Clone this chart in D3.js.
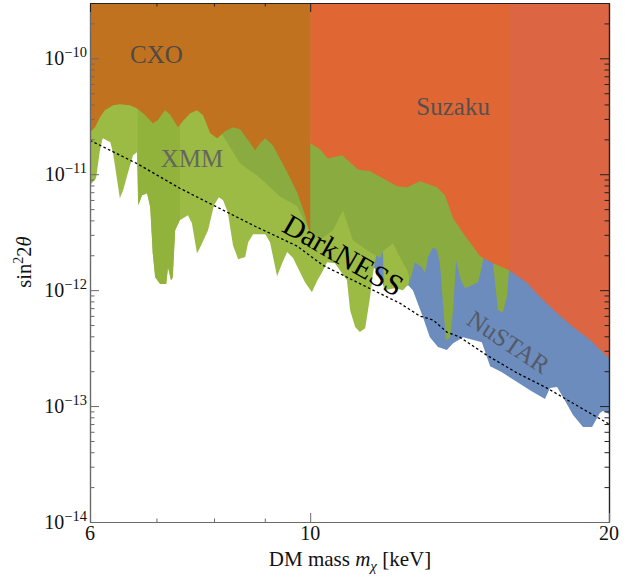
<!DOCTYPE html>
<html><head><meta charset="utf-8">
<script src="https://cdn.jsdelivr.net/npm/d3@7/dist/d3.min.js"></script>
<style>
html,body{margin:0;padding:0;background:#fff;}
svg{display:block;font-family:"Liberation Serif","DejaVu Serif",serif;}
</style></head>
<body>
<svg id="chart" width="631" height="577"></svg>
<script>
// ---------------- data (mass in keV, sin^2 2theta) ----------------
const xDomain = [6, 20];
const yDomain = [1e-14, 3e-10];
const xMajorTicks = [6, 10, 20];
const xMinorTicks = [7, 8, 9];
const yMajorTicks = [1e-14, 1e-13, 1e-12, 1e-11, 1e-10];
const yTickExponents = ["−14", "−13", "−12", "−11", "−10"];
const yMinorMantissas = [2, 3, 4, 5, 6, 7, 8, 9];

const cxoLower = [[6.00,2.30e-11],[6.07,2.54e-11],[6.14,3.10e-11],[6.21,3.56e-11],[6.33,3.93e-11],[6.43,4.01e-11],[6.58,3.93e-11],[6.69,3.71e-11],[6.82,3.23e-11],[6.94,2.75e-11],[7.02,2.92e-11],[7.14,3.56e-11],[7.22,3.29e-11],[7.36,2.54e-11],[7.44,2.86e-11],[7.57,3.36e-11],[7.69,3.56e-11],[7.80,3.23e-11],[7.93,2.26e-11],[8.06,2.04e-11],[8.21,2.35e-11],[8.36,2.54e-11],[8.50,2.44e-11],[8.66,1.96e-11],[8.80,1.61e-11],[8.90,1.85e-11],[9.01,2.04e-11],[9.17,1.78e-11],[9.48,1.04e-11],[9.70,7.00e-12],[9.86,4.70e-12],[9.95,3.56e-12],[10.0,2.92e-12]];

const suzakuLower = [[10.0,1.85e-11],[10.23,1.64e-11],[10.42,1.37e-11],[10.77,1.46e-11],[11.17,1.10e-11],[11.49,1.06e-11],[12.23,7.88e-12],[12.52,7.72e-12],[12.90,8.71e-12],[13.42,7.72e-12],[13.67,6.59e-12],[13.93,4.18e-12],[14.26,3.10e-12],[14.83,1.96e-12],[15.28,1.71e-12],[15.86,1.49e-12],[16.54,1.15e-12],[17.04,8.71e-13],[17.73,6.33e-13],[18.40,4.80e-13],[19.14,3.71e-13],[20.0,2.59e-13]];
const suzakuSplit = 15.86;

const xmmLower = [[6.00,8.04e-12],[6.085,9.24e-12],[6.14,1.61e-11],[6.18,2.04e-11],[6.29,1.89e-11],[6.33,1.52e-11],[6.39,8.88e-12],[6.43,6.21e-12],[6.48,7.28e-12],[6.55,1.02e-11],[6.63,1.46e-11],[6.69,1.55e-11],[6.71,5.40e-12],[6.77,6.59e-12],[6.85,6.86e-12],[6.90,5.19e-12],[6.94,2.08e-12],[6.98,1.29e-12],[7.06,1.13e-12],[7.16,1.13e-12],[7.19,1.58e-12],[7.24,1.22e-12],[7.27,1.29e-12],[7.31,3.29e-12],[7.39,4.01e-12],[7.53,4.43e-12],[7.60,3.78e-12],[7.69,2.08e-12],[7.74,2.30e-12],[7.89,3.29e-12],[8.00,5.40e-12],[8.09,6.33e-12],[8.17,5.97e-12],[8.26,4.70e-12],[8.36,2.44e-12],[8.46,1.85e-12],[8.60,1.93e-12],[8.66,2.59e-12],[8.76,3.04e-12],[9.01,3.04e-12],[9.11,2.59e-12],[9.26,1.32e-12],[9.37,1.71e-12],[9.48,2.13e-12],[9.61,1.89e-12],[9.88,1.17e-12],[10.04,9.61e-13],[10.16,1.20e-12],[10.28,1.43e-12],[10.40,1.74e-12],[10.59,1.71e-12],[10.89,1.22e-12],[10.97,6.72e-13],[11.10,4.80e-13],[11.22,4.35e-13],[11.36,4.70e-13],[11.49,8.71e-13],[11.57,1.40e-12],[11.62,1.74e-12],[11.68,2.21e-12],[11.84,2.21e-12],[11.86,1.00e-12],[12.17,1.04e-12],[12.40,1.00e-12],[12.57,1.13e-12],[12.64,2.21e-12]];
const xmmStripeRange = [6.70, 7.39];

const xmmDarkLower = [[7.98,2.65e-11],[8.15,2.21e-11],[8.50,1.24e-11],[8.86,9.61e-12],[9.32,6.46e-12],[9.70,5.30e-12],[10.0,3.16e-12],[10.23,2.70e-12],[10.54,3.29e-12],[10.79,4.89e-12],[11.04,2.70e-12],[11.41,2.21e-12],[11.76,1.89e-12],[11.86,2.21e-12],[12.12,2.54e-12],[12.31,1.93e-12],[12.52,1.49e-12],[12.61,1.22e-12],[12.75,1.74e-12],[12.96,1.58e-12],[13.05,1.40e-12],[13.14,1.93e-12],[13.30,2.35e-12],[13.42,2.21e-12],[13.51,1.71e-12],[13.60,8.20e-13],[13.70,3.71e-13],[13.83,3.86e-13],[13.93,6.72e-13],[14.03,1.81e-12],[14.15,1.29e-12],[14.32,1.04e-12],[14.55,1.10e-12],[14.76,1.17e-12],[14.89,1.58e-12],[15.06,2.86e-12],[15.28,1.71e-12],[15.46,6.72e-13],[15.64,6.46e-13],[15.78,8.71e-13],[15.86,1.49e-12]];

const nustarLower = [[11.54,1.64e-12],[11.70,1.43e-12],[11.86,1.08e-12],[12.17,1.06e-12],[12.55,1.10e-12],[12.69,1.00e-12],[12.99,5.85e-13],[13.20,3.93e-13],[13.45,3.23e-13],[13.73,3.04e-13],[13.93,3.49e-13],[14.26,3.93e-13],[14.89,3.56e-13],[15.18,2.21e-13],[15.60,1.96e-13],[16.16,1.61e-13],[16.65,1.37e-13],[17.24,1.15e-13],[17.44,1.43e-13],[17.73,1.46e-13],[17.97,1.20e-13],[18.40,8.36e-14],[18.83,6.59e-14],[19.23,6.59e-14],[19.58,8.71e-14],[19.72,9.06e-14],[20.0,8.53e-14]];

const darknessLine = [[6.0,1.96e-11],[6.71,1.22e-11],[7.39,7.57e-12],[8.06,5.19e-12],[8.80,3.56e-12],[9.70,2.40e-12],[10.30,1.64e-12],[11.04,1.22e-12],[11.57,1.00e-12],[12.31,7.72e-13],[12.90,5.97e-13],[13.11,5.74e-13],[13.30,5.51e-13],[13.73,4.35e-13],[14.15,3.93e-13],[15.06,2.75e-13],[16.16,1.93e-13],[17.32,1.43e-13],[18.83,9.42e-14],[20.0,7.00e-14]];

const regionLabels = ["CXO", "XMM", "Suzaku", "NuSTAR", "DarkNESS"];

// ---------------- drawing ----------------
const W = 631, H = 577;
const M = {left: 90, right: 22, top: 3, bottom: 55};
const svg = d3.select("#chart");
const x = d3.scaleLog().domain(xDomain).range([M.left, W - M.right]);
const y = d3.scaleLog().domain(yDomain).range([H - M.bottom, M.top]);
const yTop = yDomain[1];

const col = {
  cxo: "#C0721E", suzL: "#E06734", suzR: "#DC6544",
  xmm: "#9BBB45", stripe: "#91B33B", xmmDark: "#8AAB3F", nustar: "#6C8CBE"
};

const defs = svg.append("defs");
defs.append("clipPath").attr("id", "plotclip").append("rect")
  .attr("x", x(xDomain[0])).attr("y", y(yDomain[1]))
  .attr("width", x(xDomain[1]) - x(xDomain[0])).attr("height", y(yDomain[0]) - y(yDomain[1]));
defs.append("clipPath").attr("id", "stripeclip").append("rect")
  .attr("x", x(xmmStripeRange[0])).attr("y", y(yDomain[1]))
  .attr("width", x(xmmStripeRange[1]) - x(xmmStripeRange[0])).attr("height", y(yDomain[0]) - y(yDomain[1]));

const g = svg.append("g").attr("clip-path", "url(#plotclip)");

const area = d3.area().x(d => x(d[0])).y0(y(yTop)).y1(d => y(d[1]));

// NuSTAR
g.append("path").datum(nustarLower).attr("d", area).attr("fill", col.nustar);
// XMM light
g.append("path").datum(xmmLower).attr("d", area).attr("fill", col.xmm);
// XMM stripe
g.append("path").datum(xmmLower).attr("d", area).attr("fill", col.stripe)
  .attr("clip-path", "url(#stripeclip)");
// XMM dark
g.append("path").datum(xmmDarkLower).attr("d", area).attr("fill", col.xmmDark);
// CXO
g.append("path").datum(cxoLower).attr("d", area).attr("fill", col.cxo);
// Suzaku
g.append("path").datum(suzakuLower.filter(d => d[0] <= suzakuSplit)).attr("d", area).attr("fill", col.suzL);
g.append("path").datum(suzakuLower.filter(d => d[0] >= suzakuSplit)).attr("d", area).attr("fill", col.suzR);

// DarkNESS dotted line
g.append("path").datum(darknessLine)
  .attr("d", d3.line().x(d => x(d[0])).y(d => y(d[1])))
  .attr("fill", "none").attr("stroke", "#000").attr("stroke-width", 1.3)
  .attr("stroke-dasharray", "2.6,2.4");

// Region labels
const lab = svg.append("g").attr("font-family", "'Liberation Serif', serif");
lab.append("text").attr("x", x(7.0)).attr("y", y(9.2e-11)).attr("text-anchor", "middle")
  .attr("font-size", 25).attr("fill", "#4f4a45").text(regionLabels[0]);
lab.append("text").attr("x", x(7.6)).attr("y", y(1.16e-11)).attr("text-anchor", "middle")
  .attr("font-size", 25).attr("fill", "#666660").text(regionLabels[1]);
lab.append("text").attr("x", x(13.93)).attr("y", y(3.23e-11)).attr("text-anchor", "middle")
  .attr("font-size", 25).attr("fill", "#555050").text(regionLabels[2]);
lab.append("text").attr("text-anchor", "middle").attr("font-size", 25).attr("fill", "#555a66")
  .attr("transform", `translate(${x(15.67)},${y(3.10e-13)}) rotate(33.7)`).text(regionLabels[3]);
lab.append("text").attr("text-anchor", "middle").attr("font-size", 30).attr("fill", "#000")
  .attr("transform", `translate(${x(10.67)},${y(1.68e-12)}) rotate(30)`).text(regionLabels[4]);

// ---------------- axes ----------------
const yMinor = [];
yMajorTicks.forEach(t => yMinorMantissas.forEach(mm => { const v = t * mm; if (v < yDomain[1]) yMinor.push(v); }));

const gray = "#6a6a6a", dark = "#222";
function styleAxis(sel, c) {
  sel.selectAll("path.domain").attr("stroke", c).attr("stroke-width", 1.2);
  sel.selectAll(".tick line").attr("stroke", c).attr("stroke-width", 1);
  sel.selectAll(".tick text").remove();
}
const axL = svg.append("g").attr("transform", `translate(${M.left},0)`)
  .call(d3.axisLeft(y).tickValues(yMajorTicks).tickSizeInner(-9).tickSizeOuter(0).tickFormat(""));
styleAxis(axL, gray);
const axLm = svg.append("g").attr("transform", `translate(${M.left},0)`)
  .call(d3.axisLeft(y).tickValues(yMinor).tickSizeInner(-4.5).tickSizeOuter(0).tickFormat(""));
styleAxis(axLm, gray);
const axR = svg.append("g").attr("transform", `translate(${W - M.right},0)`)
  .call(d3.axisRight(y).tickValues(yMajorTicks).tickSizeInner(-9).tickSizeOuter(0).tickFormat(""));
styleAxis(axR, dark);
const axRm = svg.append("g").attr("transform", `translate(${W - M.right},0)`)
  .call(d3.axisRight(y).tickValues(yMinor).tickSizeInner(-4.5).tickSizeOuter(0).tickFormat(""));
styleAxis(axRm, dark);
const axB = svg.append("g").attr("transform", `translate(0,${H - M.bottom})`)
  .call(d3.axisBottom(x).tickValues(xMajorTicks).tickSizeInner(-9).tickSizeOuter(0).tickFormat(""));
styleAxis(axB, gray);
const axBm = svg.append("g").attr("transform", `translate(0,${H - M.bottom})`)
  .call(d3.axisBottom(x).tickValues(xMinorTicks).tickSizeInner(-3.5).tickSizeOuter(0).tickFormat(""));
styleAxis(axBm, gray);
const axT = svg.append("g").attr("transform", `translate(0,${M.top})`)
  .call(d3.axisTop(x).tickValues(xMajorTicks).tickSizeInner(-9).tickSizeOuter(0).tickFormat(""));
styleAxis(axT, dark);
const axTm = svg.append("g").attr("transform", `translate(0,${M.top})`)
  .call(d3.axisTop(x).tickValues(xMinorTicks).tickSizeInner(-3.5).tickSizeOuter(0).tickFormat(""));
styleAxis(axTm, dark);

// tick labels
const tl = svg.append("g").attr("font-family", "'Liberation Serif', serif").attr("fill", "#111");
yMajorTicks.forEach((t, i) => {
  const tx = tl.append("text").attr("x", M.left - 3).attr("y", y(t) + 7)
    .attr("text-anchor", "end").attr("font-size", 20);
  tx.append("tspan").text("10");
  tx.append("tspan").attr("dy", -8).attr("font-size", 14.5).text(yTickExponents[i]);
});
xMajorTicks.forEach(t => {
  tl.append("text").attr("x", x(t)).attr("y", H - M.bottom + 18)
    .attr("text-anchor", "middle").attr("font-size", 20).text(String(t));
});

// axis titles
const xt = tl.append("text").attr("x", 350).attr("y", 566).attr("text-anchor", "middle").attr("font-size", 21);
xt.append("tspan").text("DM mass ");
xt.append("tspan").attr("font-style", "italic").text("m");
xt.append("tspan").attr("font-style", "italic").attr("font-size", 15).attr("dy", 5).text("χ");
xt.append("tspan").attr("dy", -5).text(" [keV]");

const yt = tl.append("text").attr("transform", `translate(31,${262}) rotate(-90)`)
  .attr("text-anchor", "middle").attr("font-size", 20.5);
yt.append("tspan").text("sin");
yt.append("tspan").attr("font-size", 14).attr("dy", -8).text("2");
yt.append("tspan").attr("dy", 8).text("2");
yt.append("tspan").attr("font-style", "italic").text("θ");
</script>
</body></html>
